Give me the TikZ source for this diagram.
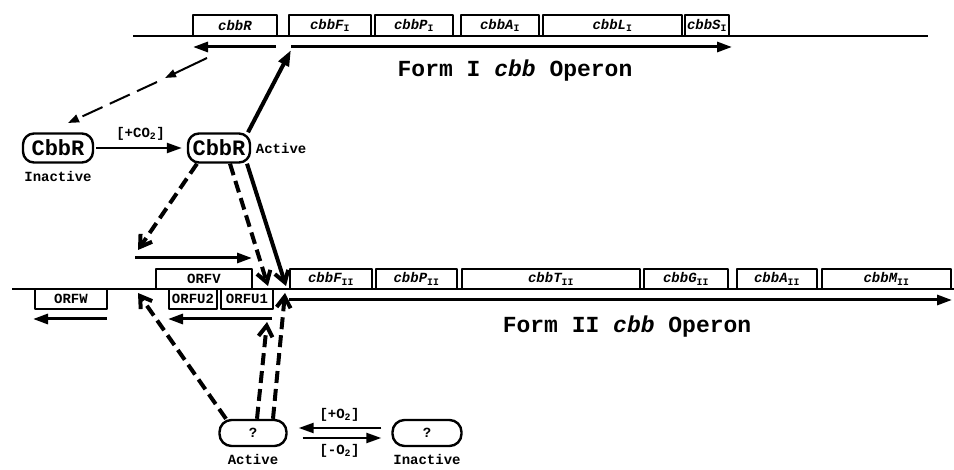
\documentclass[tikz,border=0pt]{standalone}
\usepackage{fontspec}
\setmonofont{Liberation Mono}
\usetikzlibrary{arrows.meta,positioning}
\newcommand{\gsub}[1]{\textsubscript{\upshape#1}}
\newcommand{\fsz}[1]{\fontsize{#1}{#1}\selectfont}
\begin{document}
\begin{tikzpicture}[x=1pt,y=-1pt,line join=round,>={Triangle[length=15pt,width=10pt]},thick]
	\tikzset{every node/.style={font=\ttfamily\bfseries\fsz{14}},
		gene/.style={draw,line width=2.2pt,inner sep=0pt,minimum height=21pt,font=\ttfamily\bfseries\itshape\fsz{14}},
		orf/.style={draw,line width=2.2pt,inner sep=0pt,minimum height=20pt},
		prot/.style={draw,rectangle,rounded corners=11pt,line width=2.4pt,inner sep=0pt,minimum height=29pt},
		dna/.style={line width=2pt},
		tx/.style={line width=3pt,->},
		act/.style={line width=4pt,-{Straight Barb[length=11pt,width=14pt]}},
		dashact/.style={act,dash pattern=on 12pt off 6pt},
		lead/.style={line width=2pt,-{Triangle[length=11pt,width=8pt]}},
		co/.style={line width=2.4pt,->}}
	\useasboundingbox (0,0) rectangle (954,470);
	% form I operon
	\draw[dna] (133,36)--(928,36);
	\foreach \nm/\xa/\xb/\txt in {cbbR/193/277/cbbR, fI/289/371/{cbbF\gsub{I}}, pI/375/453/{cbbP\gsub{I}},
		aI/461/539/{cbbA\gsub{I}}, lI/543/682/{cbbL\gsub{I}}, sI/685/729/{cbbS\gsub{I}}}
	\node[gene,minimum width={\xb-\xa}] (\nm) at ({(\xa+\xb)/2},25.5) {\txt};
	\coordinate (rS) at (276,47);
	\coordinate (rE) at (193,47);
	\coordinate (promI) at (291,47);
	\coordinate (endI) at (732,47);
	\draw[tx] (rS)--(rE);
	\draw[tx] (promI)--(endI);
	\node (formI) at (515,71) {\fsz{23}Form I \textit{cbb} Operon};
	% form II operon
	\draw[dna] (12,289)--(954,289);
	\foreach \nm/\xa/\xb/\txt in {fII/290/372/{cbbF\gsub{II}}, pII/376/457/{cbbP\gsub{II}}, tII/462/640/{cbbT\gsub{II}},
		gII/644/728/{cbbG\gsub{II}}, aII/737/817/{cbbA\gsub{II}}, mII/822/951/{cbbM\gsub{II}}}
	\node[gene,minimum width={\xb-\xa},minimum height=20pt] (\nm) at ({(\xa+\xb)/2},279) {\txt};
	\node[orf,minimum width=96pt] (orfV) at (204,279) {ORFV};
	\foreach \nm/\xa/\xb/\txt in {orfW/35/107/ORFW, orfUb/169/217/ORFU2, orfUa/221/273/ORFU1}
	\node[orf,minimum width={\xb-\xa}] (\nm) at ({(\xa+\xb)/2},299) {\txt};
	\coordinate (wS) at (107,319);
	\coordinate (wE) at (33,319);
	\coordinate (uS) at (272,319);
	\coordinate (uE) at (168,319);
	\coordinate (vS) at (135,258);
	\coordinate (vE) at (252,258);
	\coordinate (promII) at (289,300);
	\coordinate (endII) at (952,300);
	\draw[tx] (wS)--(wE);
	\draw[tx] (uS)--(uE);
	\draw[tx] (vS)--(vE);
	\draw[tx] (promII)--(endII);
	\node (formII) at (627,327) {\fsz{23}Form II \textit{cbb} Operon};
	% CbbR
	\node[prot,minimum width=70pt,font=\ttfamily\bfseries\fsz{22}] (rIn) at (58,148) {CbbR};
	\node[prot,minimum width=62pt,font=\ttfamily\bfseries\fsz{22}] (rAc) at (219,148) {CbbR};
	\node[below=4pt of rIn] (rInLbl) {Inactive};
	\node[right=1pt of rAc] (rAcLbl) {Active};
	\draw[co,shorten <=2pt,shorten >=5pt] (rIn)--(rAc) node[midway,above=3pt] (co2) {[+CO\gsub{2}]};
	\coordinate (dA) at (207,58);
	\coordinate (dB) at (165,78);
	\coordinate (dC) at (157,82);
	\coordinate (dD) at (68,123);
	\draw[lead] (dA)--(dB);
	\draw[lead,dash pattern=on 22pt off 8pt] (dC)--(dD);
	\coordinate (vTip) at (138,250);
	\coordinate (uaTip) at (268,286);
	\coordinate (fTip) at (286,286);
	\draw[act,-{Triangle[length=16pt,width=11pt]}] ([xshift=29pt]rAc.north)--([yshift=-3pt]promI);
	\draw[dashact] ([xshift=-22pt]rAc.south)--(vTip);
	\draw[dashact] ([xshift=11pt]rAc.south)--(uaTip);
	\draw[act] ([xshift=28pt]rAc.south)--(fTip);
	% oxygen sensor
	\node[prot,rounded corners=12pt,minimum width=67pt,minimum height=26pt] (qAc) at (253,433) {?};
	\node[prot,rounded corners=12pt,minimum width=69pt,minimum height=26pt] (qIn) at (427,433) {?};
	\node[below=3pt of qAc] (qAcLbl) {Active};
	\node[below=3pt of qIn] (qInLbl) {Inactive};
	\draw[co,shorten <=10pt,shorten >=11pt] ([yshift=5pt]qIn.west)--([yshift=5pt]qAc.east) node[midway,above=2pt] (o2p) {[+O\gsub{2}]};
	\draw[co,shorten <=15pt,shorten >=10pt] ([yshift=-5pt]qAc.east)--([yshift=-5pt]qIn.west) node[midway,below=2pt] (o2m) {[-O\gsub{2}]};
	\coordinate (wTip) at (138,293);
	\coordinate (uTip) at (267,322);
	\coordinate (fTip2) at (285,293);
	\draw[dashact] ([xshift=-27pt]qAc.north)--(wTip);
	\draw[dashact] ([xshift=4pt]qAc.north)--(uTip);
	\draw[dashact] ([xshift=20pt]qAc.north)--(fTip2);
\end{tikzpicture}
\end{document}
